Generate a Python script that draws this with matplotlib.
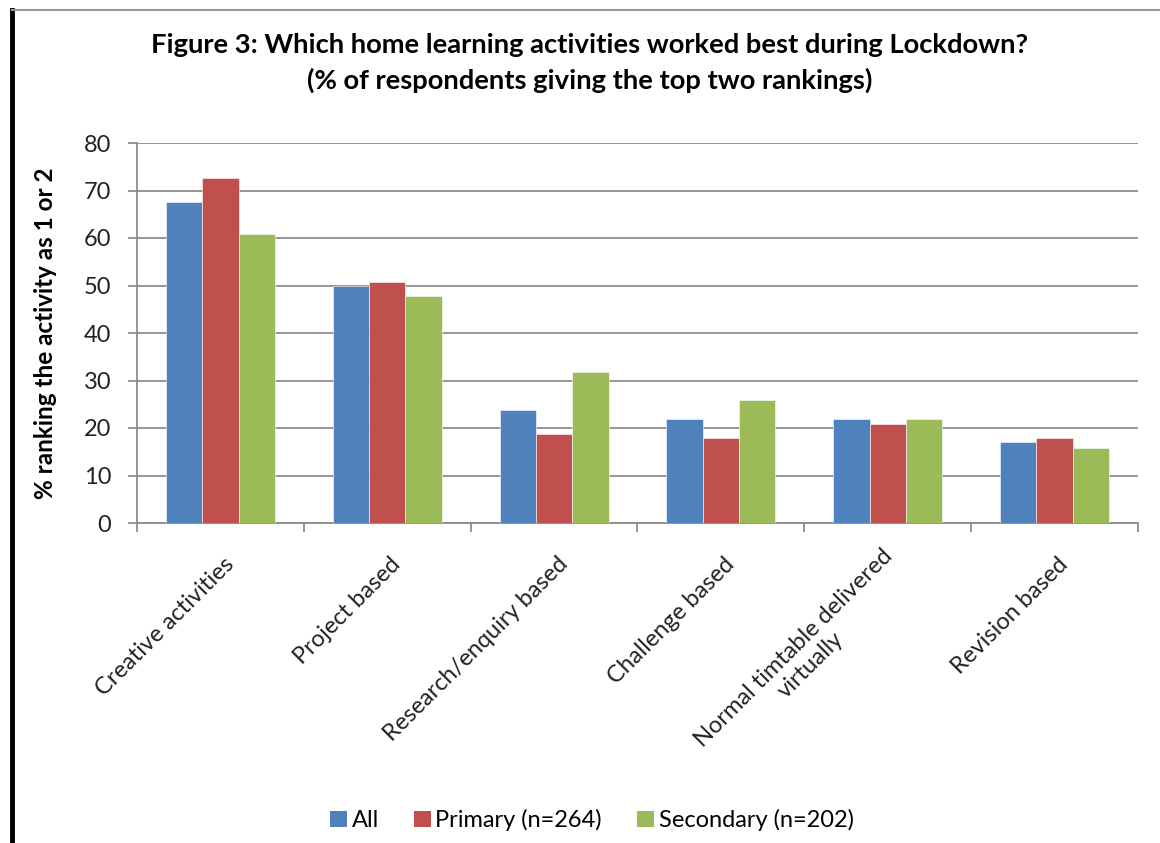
import matplotlib
matplotlib.use("Agg")
import matplotlib.pyplot as plt
import numpy as np
from matplotlib.lines import Line2D
from matplotlib.patches import Patch

plt.rcParams["font.family"] = ["Lato", "DejaVu Sans"]

# Survey results (% of respondents ranking activity 1st or 2nd)
categories = [
    "Creative activities",
    "Project based",
    "Research/enquiry based",
    "Challenge based",
    "Normal timtable delivered\nvirtually",
    "Revision based",
]
all_resp = [67.6, 50.0, 23.8, 22.0, 22.0, 17.0]
primary = [72.7, 50.7, 18.7, 17.9, 20.8, 17.9]
secondary = [60.9, 47.8, 31.8, 25.9, 22.0, 15.8]

series_labels = ["All", "Primary (n=264)", "Secondary (n=202)"]
colors = ["#4F81BD", "#C0504D", "#9BBB59"]
yticks = [0, 10, 20, 30, 40, 50, 60, 70, 80]

W, H = 1160, 843
fig = plt.figure(figsize=(W / 100, H / 100), dpi=100)
ax = fig.add_axes([137 / W, 1 - 523 / H, 1001 / W, 380 / H])

x = np.arange(len(categories))
bw = 0.218
for i, (vals, col, lab) in enumerate(zip([all_resp, primary, secondary], colors, series_labels)):
    ax.bar(x + (i - 1) * bw, vals, width=bw, color=col, label=lab,
           edgecolor="white", linewidth=0.4, zorder=3)

ax.set_xlim(-0.5, len(categories) - 0.5)
ax.set_ylim(0, 80)
ax.set_yticks(yticks)
ax.yaxis.grid(True, color="#8c8c8c", linewidth=1.3, zorder=0)
ax.set_axisbelow(True)

for side in ["top", "right"]:
    ax.spines[side].set_visible(False)
for side in ["left", "bottom"]:
    ax.spines[side].set_color("#8c8c8c")
    ax.spines[side].set_linewidth(1.3)

# category boundaries carry the x tick marks
ax.set_xticks(np.arange(len(categories) + 1) - 0.5)
ax.set_xticklabels([])
ax.tick_params(axis="x", length=6.5, width=1.3, color="#8c8c8c")
ax.tick_params(axis="y", length=6.5, width=1.3, color="#8c8c8c",
               labelsize=17, labelcolor="#222222", pad=12)

for xi, lab in zip(x, categories):
    ax.text(xi + 0.06, -8.0, lab, rotation=45, rotation_mode="anchor",
            ha="right", va="center", fontsize=17, color="#222222",
            multialignment="center")

ax.set_ylabel("% ranking the activity as 1 or 2", fontsize=17.5,
              fontweight="bold")
ax.yaxis.set_label_coords(-80 / 1001, 0.5)

fig.text(590 / W, 1 - 45 / H,
         "Figure 3: Which home learning activities worked best during Lockdown?",
         ha="center", va="center", fontsize=19.7, fontweight="bold")
fig.text(590 / W, 1 - 80 / H,
         "(% of respondents giving the top two rankings)",
         ha="center", va="center", fontsize=19.7, fontweight="bold")

handles = [Patch(facecolor=c, edgecolor="none") for c in colors]
fig.legend(handles, series_labels, loc="center", bbox_to_anchor=(592 / W, 1 - 820 / H),
           ncol=3, frameon=False, fontsize=17, handlelength=0.7, handleheight=0.7,
           handletextpad=0.2, columnspacing=1.5)

# chart frame: heavy black left edge, grey top edge
fig.add_artist(Line2D([12 / W, 12 / W], [0, 1 - 10 / H], color="black",
                      linewidth=3.5, transform=fig.transFigure))
fig.add_artist(Line2D([12 / W, 1], [1 - 10 / H, 1 - 10 / H], color="#999999",
                      linewidth=1.5, transform=fig.transFigure))

fig.savefig("out.png", dpi=100)
